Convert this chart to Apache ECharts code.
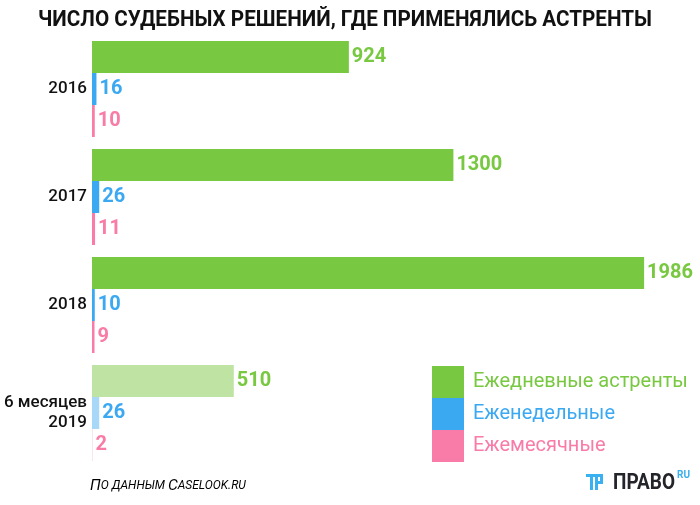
<!DOCTYPE html>
<html><head><meta charset="utf-8">
<script src="https://cdn.jsdelivr.net/npm/echarts@6/dist/echarts.min.js"></script>
<style>html,body{margin:0;padding:0;background:#fff}#c{width:700px;height:505px}</style>
</head><body><div id="c"></div>
<script>
const categories = ['2016', '2017', '2018', '6 месяцев\n2019'];
const seriesNames = ['Ежедневные астренты', 'Еженедельные', 'Ежемесячные'];
const daily = [924, 1300, 1986, 510];
const weekly = [16, 26, 10, 26];
const monthly = [10, 11, 9, 2];
const colors = ['#78c841', '#3ba9f1', '#f97ba7'];
const lightColors = ['#bfe3a2', '#a8d8f8', '#fbd0df'];
const titleText = 'ЧИСЛО СУДЕБНЫХ РЕШЕНИЙ, ГДЕ ПРИМЕНЯЛИСЬ АСТРЕНТЫ';

const chart = echarts.init(document.getElementById('c'), null, {renderer: 'canvas'});

const cv = document.createElement('canvas').getContext('2d');
cv.font = 'bold 22px Roboto';
const titleScale = 614 / cv.measureText(titleText).width;
cv.font = 'bold 22px Roboto';
const logoScale = 62 / cv.measureText('ПРАВО').width;

function mkSeries(i, values) {
  return {
    name: seriesNames[i],
    type: 'bar',
    barGap: '0%',
    barCategoryGap: '11.1%',
    itemStyle: {color: colors[i]},
    label: {show: true, position: 'right', distance: 3, color: colors[i],
      fontFamily: 'Roboto', fontWeight: 'bold', fontSize: 20},
    data: values.map((v, k) => k === 3 ? {value: v, itemStyle: {color: lightColors[i]}} : v)
  };
}

chart.setOption({
  animation: false,
  grid: {left: 92, right: 52, top: 35, height: 432},
  xAxis: {type: 'value', min: 0, max: 2000, show: false},
  yAxis: {type: 'category', inverse: true, data: categories,
    axisLine: {show: false}, axisTick: {show: false},
    axisLabel: {fontFamily: 'Roboto', fontWeight: 500, fontSize: 17, color: '#111', margin: 5, lineHeight: 20}},
  legend: {orient: 'vertical', left: 432, top: 366, padding: 0, itemWidth: 32, itemHeight: 32, itemGap: 0,
    icon: 'rect', selectedMode: false,
    data: seriesNames.map((n, i) => ({name: n, textStyle: {color: colors[i]}})),
    textStyle: {fontFamily: 'Roboto', fontSize: 20, padding: [0, 0, 0, 4]}},
  series: [mkSeries(0, daily), mkSeries(1, weekly), mkSeries(2, monthly)],
  graphic: [
    {type: 'text', x: 345, y: 20, scaleX: titleScale,
      style: {text: titleText, font: 'bold 22px Roboto', fill: '#111', align: 'center', verticalAlign: 'middle'}},
    {type: 'text', x: 90, y: 486,
      style: {text: '{a|П}{b|О ДАННЫМ }{a|C}{b|ASELOOK.RU}', verticalAlign: 'middle',
        rich: {a: {fontFamily: 'Roboto', fontStyle: 'italic', fontSize: 15.5, color: '#333'},
               b: {fontFamily: 'Roboto', fontStyle: 'italic', fontSize: 12, color: '#333'}}}},
    {type: 'group', x: 586, y: 474, children: [
      {type: 'rect', shape: {x: 0, y: 0, width: 11, height: 3}, style: {fill: '#39b0ef'}},
      {type: 'rect', shape: {x: 4, y: 0, width: 3, height: 16}, style: {fill: '#39b0ef'}},
      {type: 'rect', shape: {x: 9, y: 0, width: 3, height: 16}, style: {fill: '#39b0ef'}},
      {type: 'rect', shape: {x: 9, y: 0, width: 8, height: 3}, style: {fill: '#39b0ef'}},
      {type: 'rect', shape: {x: 14, y: 0, width: 3, height: 10}, style: {fill: '#39b0ef'}},
      {type: 'rect', shape: {x: 9, y: 7, width: 8, height: 3}, style: {fill: '#39b0ef'}}
    ]},
    {type: 'text', x: 613, y: 483, scaleX: logoScale,
      style: {text: 'ПРАВО', font: 'bold 22px Roboto', fill: '#23252b', verticalAlign: 'middle'}},
    {type: 'text', x: 677, y: 475,
      style: {text: 'RU', font: 'bold 10px Roboto', fill: '#39b0ef', verticalAlign: 'middle'}}
  ]
});
</script></body></html>
